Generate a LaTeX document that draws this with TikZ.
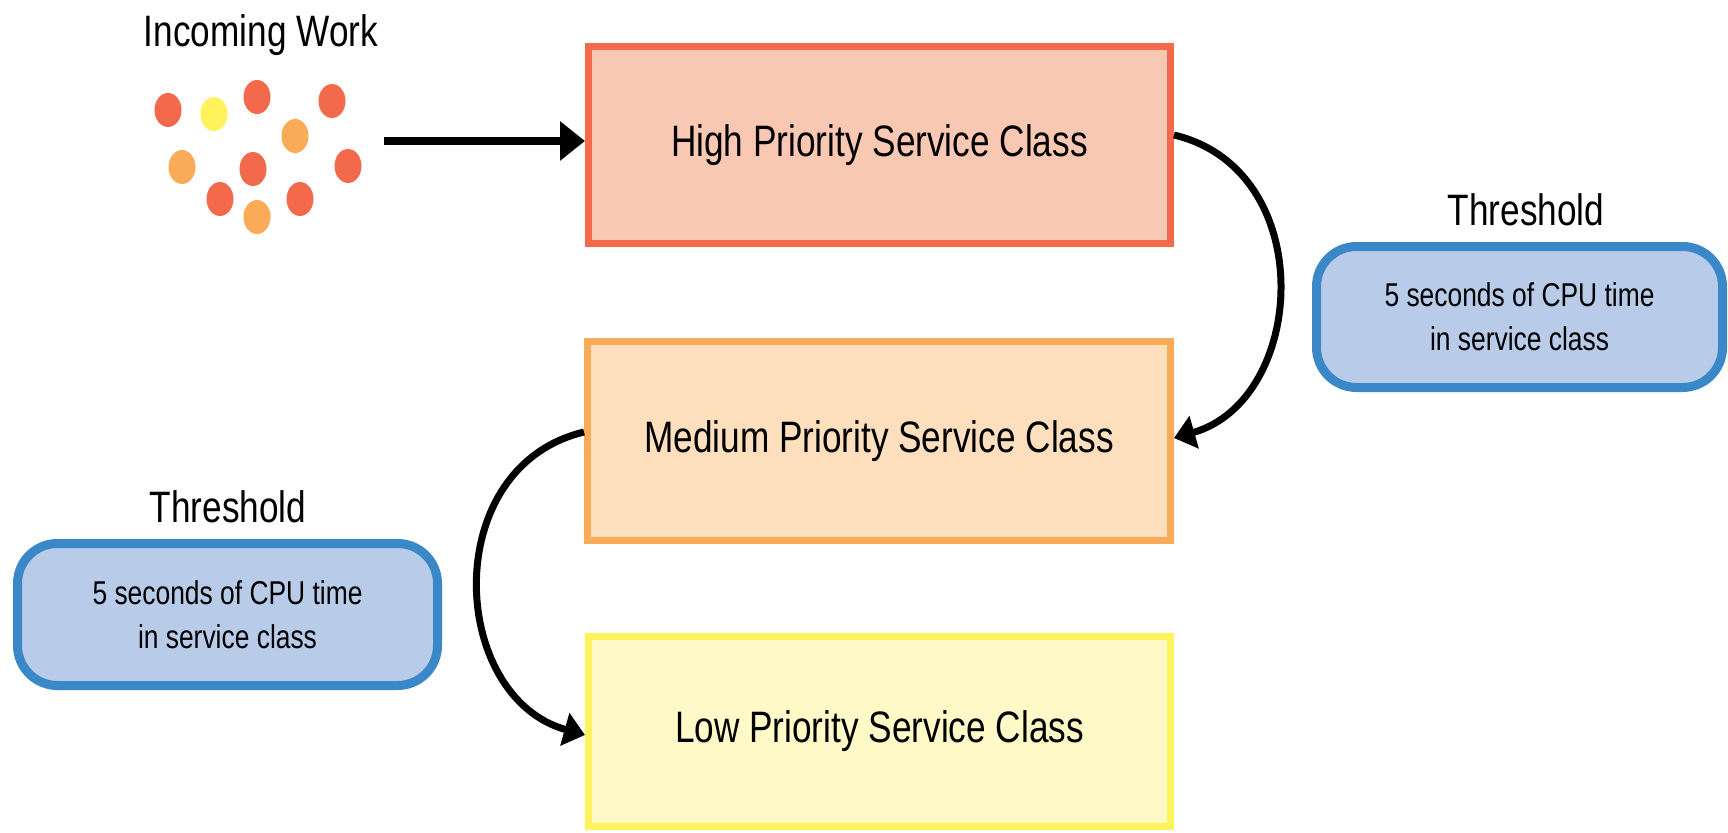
\documentclass[tikz,border=0pt]{standalone}
\usepackage{fontspec}
\setmainfont{Liberation Sans}[FakeStretch=0.8]
\usetikzlibrary{arrows.meta,shapes.geometric,calc}
\definecolor{hiFill}{HTML}{F9C8B3}
\definecolor{hiLine}{HTML}{F26A4B}
\definecolor{medFill}{HTML}{FDDFBD}
\definecolor{medLine}{HTML}{F9AB57}
\definecolor{lowFill}{HTML}{FFF9C7}
\definecolor{lowLine}{HTML}{FFF35C}
\definecolor{thFill}{HTML}{B8CCEA}
\definecolor{thLine}{HTML}{3A88C8}
\tikzset{
  classbox/.style={rectangle, line width=7pt, inner sep=0pt, align=center,
    font=\fontsize{44}{52}\selectfont},
  thbox/.style={rectangle, rounded corners=40pt, draw=thLine, fill=thFill,
    line width=9pt, inner sep=0pt, align=center, font=\fontsize{33}{44}\selectfont},
  captext/.style={anchor=base, inner sep=0pt, font=\fontsize{44}{52}\selectfont},
  workdot/.style={ellipse, draw=none, inner sep=0pt, minimum width=27pt, minimum height=34pt},
  conn/.style={line width=7pt, -{Triangle[length=21pt,width=33pt]}},
  straightconn/.style={line width=8pt, -{Triangle[length=25pt,width=38pt]}}
}
\begin{document}
\begin{tikzpicture}[x=1pt,y=-1pt]
\useasboundingbox (0,0) rectangle (1728,832);

% incoming work
\node[captext] (inc) at (261,47) {Incoming Work};
\node[workdot, fill=hiLine]  (d1)  at (168,110) {};
\node[workdot, fill=lowLine] (d2)  at (214,114) {};
\node[workdot, fill=hiLine]  (d3)  at (257,97)  {};
\node[workdot, fill=hiLine]  (d4)  at (332,101) {};
\node[workdot, fill=medLine] (d5)  at (295,136) {};
\node[workdot, fill=medLine] (d6)  at (182,167) {};
\node[workdot, fill=hiLine]  (d7)  at (253,169) {};
\node[workdot, fill=hiLine]  (d8)  at (348,166) {};
\node[workdot, fill=hiLine]  (d9)  at (220,199) {};
\node[workdot, fill=medLine] (d10) at (257,217) {};
\node[workdot, fill=hiLine]  (d11) at (300,199) {};

% service classes
\node[classbox, draw=hiLine, fill=hiFill, minimum width=582pt, minimum height=197pt]
  (high) at (879.5,145) {High Priority Service Class};
\node[classbox, draw=medLine, fill=medFill, minimum width=583pt, minimum height=199pt]
  (med) at (879,441) {Medium Priority Service Class};
\node[classbox, draw=lowLine, fill=lowFill, minimum width=582pt, minimum height=190pt]
  (low) at (879.5,731.5) {Low Priority Service Class};

% thresholds
\node[captext] (thrR) at (1526,225) {Threshold};
\node[thbox, minimum width=406pt, minimum height=141pt] (boxR) at (1519.5,317)
  {5 seconds of CPU time\\in service class};
\node[captext] (thrL) at (228,522) {Threshold};
\node[thbox, minimum width=420pt, minimum height=142pt] (boxL) at (227.5,614.5)
  {5 seconds of CPU time\\in service class};

% connectors
\coordinate (src) at (384,141);
\draw[straightconn] (src) -- (src -| high.west);
\draw[conn] ($(high.east)+(0,-10)$) .. controls +(146,35) and +(133,-38) .. ($(med.east)+(0,-3)$);
\draw[conn] ($(med.west)+(0,-9)$) .. controls +(-146,35) and +(-136,-38) .. ($(low.west)+(0,3.5)$);
\end{tikzpicture}
\end{document}
